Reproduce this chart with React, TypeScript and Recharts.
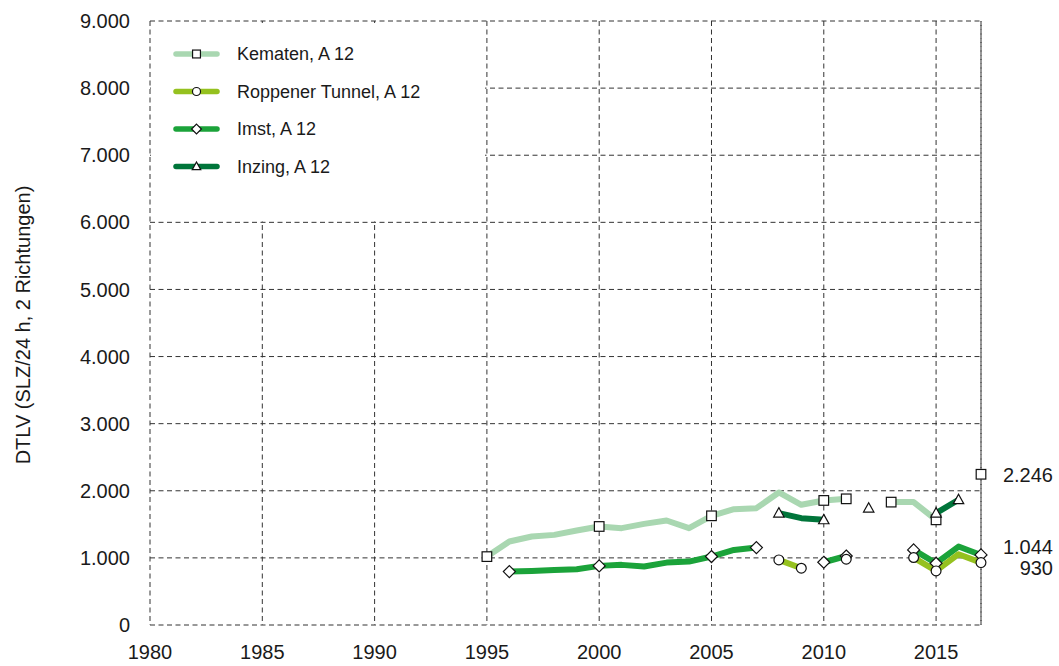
import React from 'react';
import { LineChart, Line, XAxis, YAxis, CartesianGrid, Legend, ReferenceLine } from 'recharts';

// Jahresreihe A 12 (DTLV, SLZ/24 h, beide Richtungen)
const years = [1995, 1996, 1997, 1998, 1999, 2000, 2001, 2002, 2003, 2004, 2005, 2006,
  2007, 2008, 2009, 2010, 2011, 2012, 2013, 2014, 2015, 2016, 2017];

const kematen = [1019, 1244, 1318, 1343, 1408, 1468, 1443, 1507, 1557, 1443, 1627, 1726,
  1741, 1975, 1791, 1856, 1880, null, 1831, 1831, 1567, null, 2246];
const roppener = [null, null, null, null, null, null, null, null, null, null, null, null,
  null, 970, 846, null, 980, null, null, 1005, 806, 1055, 930];
const imst = [null, 796, 806, 821, 831, 881, 896, 871, 930, 945, 1020, 1119,
  1154, null, null, 935, 1028, null, null, 1119, 920, 1169, 1044];
const inzing = [null, null, null, null, null, null, null, null, null, null, null, null,
  null, 1667, 1592, 1567, null, 1741, null, null, 1667, 1866, null];

const xTicks = [1980, 1985, 1990, 1995, 2000, 2005, 2010, 2015];
const yTicks = [0, 1000, 2000, 3000, 4000, 5000, 6000, 7000, 8000, 9000];

const seriesNames = ['Kematen, A 12', 'Roppener Tunnel, A 12', 'Imst, A 12', 'Inzing, A 12'];

const data = years.map((year, i) => ({
  year,
  kematen: kematen[i],
  roppener: roppener[i],
  imst: imst[i],
  inzing: inzing[i],
}));

const COLORS = {
  kematen: '#a9d7b1',
  roppener: '#95c11f',
  imst: '#1ba33a',
  inzing: '#00753a',
};

const FONT = '"Liberation Sans", Arial, Helvetica, sans-serif';

type Shape = 'square' | 'circle' | 'diamond' | 'triangle';

const fmt = (v: number) => v.toString().replace(/\B(?=(\d{3})+(?!\d))/g, '.');

const Marker = ({ shape, x, y, k = 1 }: { shape: Shape; x: number; y: number; k?: number }) => {
  const common = { fill: '#fff', stroke: '#111', strokeWidth: 1.2 };
  if (shape === 'square') {
    const s = 4.8 * k;
    return <rect x={x - s} y={y - s} width={2 * s} height={2 * s} {...common} />;
  }
  if (shape === 'circle') {
    return <circle cx={x} cy={y} r={4.9 * k} {...common} />;
  }
  if (shape === 'diamond') {
    const s = 6 * k;
    return <polygon points={`${x},${y - s} ${x + s},${y} ${x},${y + s} ${x - s},${y}`} {...common} />;
  }
  const s = 5.2 * k;
  return <polygon points={`${x},${y - s * 1.05} ${x + s},${y + s * 0.75} ${x - s},${y + s * 0.75}`} {...common} />;
};

// markers only every 5 years and at the ends of each segment
const makeDot = (values: (number | null)[], shape: Shape, name: string, labelDy?: number) =>
  (props: any) => {
    const { cx, cy, index } = props;
    const key = `${name}-${index}`;
    const v = values[index];
    if (v == null || cx == null || cy == null) return <g key={key} />;
    const prev = index > 0 ? values[index - 1] : null;
    const next = index < values.length - 1 ? values[index + 1] : null;
    const show = years[index] % 5 === 0 || prev == null || next == null;
    const isLast = index === values.length - 1;
    return (
      <g key={key}>
        {show && <Marker shape={shape} x={cx} y={cy} />}
        {isLast && labelDy !== undefined && (
          <text x={cx + 72} y={cy + labelDy} textAnchor="end" dominantBaseline="central"
            fontSize={20} fill="#1a1a1a" fontFamily={FONT}>
            {fmt(v)}
          </text>
        )}
      </g>
    );
  };

const legendItems: { name: string; color: string; shape: Shape }[] = [
  { name: seriesNames[0], color: COLORS.kematen, shape: 'square' },
  { name: seriesNames[1], color: COLORS.roppener, shape: 'circle' },
  { name: seriesNames[2], color: COLORS.imst, shape: 'diamond' },
  { name: seriesNames[3], color: COLORS.inzing, shape: 'triangle' },
];

const LegendBox = () => (
  <svg width={334} height={198} style={{ display: 'block', background: '#fff' }}>
    {legendItems.map((item, i) => {
      const y = 31 + i * 37.5;
      return (
        <g key={item.name}>
          <line x1={25} x2={66} y1={y} y2={y} stroke={item.color} strokeWidth={5.5} strokeLinecap="round" />
          <Marker shape={item.shape} x={45.5} y={y} k={0.82} />
          <text x={86} y={y} dominantBaseline="central" fontSize={18} fill="#1a1a1a" fontFamily={FONT}>
            {item.name}
          </text>
        </g>
      );
    })}
  </svg>
);

const YLabel = () => (
  <text x={23} y={325} transform="rotate(-90 23 325)" textAnchor="middle" dominantBaseline="central"
    fontSize={20} fill="#1a1a1a" fontFamily={FONT}>
    DTLV (SLZ/24 h, 2 Richtungen)
  </text>
);

const gridStroke = '#333';
const gridDash = '5 3.5';

export default function App() {
  return (
    <div style={{ position: 'absolute', left: 0, top: 0, width: 1059, height: 666, background: '#fff', fontFamily: FONT }}>
      <LineChart width={1059} height={666} data={data} margin={{ top: 21, right: 78, bottom: 0, left: 0 }}>
        <CartesianGrid stroke={gridStroke} strokeDasharray={gridDash} />
        <XAxis
          dataKey="year"
          type="number"
          domain={[1980, 2017]}
          ticks={xTicks}
          interval={0}
          height={41}
          axisLine={false}
          tickLine={false}
          tickSize={0}
          tickMargin={20}
          tick={{ fontSize: 20, fill: '#1a1a1a', fontFamily: FONT }}
        />
        <YAxis
          type="number"
          domain={[0, 9000]}
          ticks={yTicks}
          interval={0}
          width={150}
          axisLine={false}
          tickLine={false}
          tickSize={0}
          tickMargin={20}
          tickFormatter={fmt}
          tick={{ fontSize: 20, fill: '#1a1a1a', fontFamily: FONT }}
          label={{ content: () => <YLabel /> }}
        />
        <ReferenceLine x={2017} stroke={gridStroke} strokeDasharray={gridDash} />
        <Legend
          layout="horizontal"
          verticalAlign="middle"
          align="center"
          wrapperStyle={{ left: 151, top: 23, width: 334, height: 198, margin: 0, padding: 0 }}
          content={() => <LegendBox />}
        />
        <Line dataKey="kematen" name={seriesNames[0]} stroke={COLORS.kematen} strokeWidth={6}
          strokeLinejoin="round" isAnimationActive={false} activeDot={false}
          dot={makeDot(kematen, 'square', 'kematen', 1)} />
        <Line dataKey="inzing" name={seriesNames[3]} stroke={COLORS.inzing} strokeWidth={6}
          strokeLinejoin="round" isAnimationActive={false} activeDot={false}
          dot={makeDot(inzing, 'triangle', 'inzing')} />
        <Line dataKey="imst" name={seriesNames[2]} stroke={COLORS.imst} strokeWidth={6}
          strokeLinejoin="round" isAnimationActive={false} activeDot={false}
          dot={makeDot(imst, 'diamond', 'imst', -8)} />
        <Line dataKey="roppener" name={seriesNames[1]} stroke={COLORS.roppener} strokeWidth={6}
          strokeLinejoin="round" isAnimationActive={false} activeDot={false}
          dot={makeDot(roppener, 'circle', 'roppener', 5)} />
      </LineChart>
    </div>
  );
}
